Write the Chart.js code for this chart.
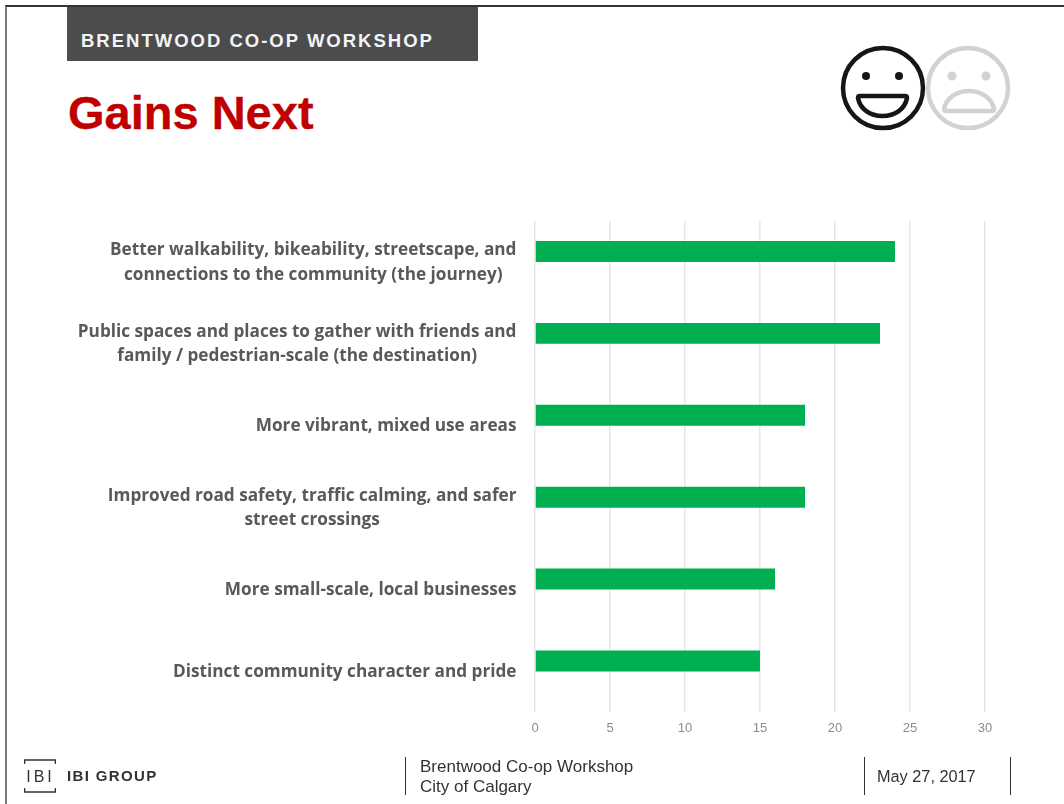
<!DOCTYPE html>
<html lang="en">
<head>
<meta charset="UTF-8" />
<title>Gains Next</title>
<script src="https://cdn.jsdelivr.net/npm/chart.js@4"></script>
<style>
  html, body { margin: 0; padding: 0; background: #fff; }
  #page { position: relative; width: 1064px; height: 804px; overflow: hidden; font-family: "Liberation Sans", Arial, sans-serif; }
  #frame { position: absolute; left: 5px; top: 5px; width: 1059px; height: 799px; border-top: 2px solid #333; border-left: 2px solid #777; box-sizing: border-box; }
  #banner { position: absolute; left: 67px; top: 7px; width: 411px; height: 54px; background: #4b4c4e; }
  #banner span { position: absolute; left: 14px; top: 23px; color: #f4f4f4; font-weight: bold; font-size: 18.5px; letter-spacing: 2px; white-space: nowrap; }
  #heading { position: absolute; left: 68px; top: 86px; color: #c00000; font-weight: bold; font-size: 47px; line-height: 54px; white-space: nowrap; -webkit-text-stroke: 0.3px #c00000; }
  #faces { position: absolute; left: 840px; top: 45px; }
  canvas { position: absolute; left: 0; top: 0; }
  .rule { position: absolute; top: 757px; height: 38px; width: 1px; background: #333; }
  .foot { position: absolute; color: #333; font-size: 17px; line-height: 20px; white-space: nowrap; }
  #brand { position: absolute; left: 67px; top: 767px; color: #333; font-weight: bold; font-size: 15px; letter-spacing: 1.35px; white-space: nowrap; }
</style>
</head>
<body>
<div id="page">
  <div id="frame"></div>
  <div id="banner"><span>BRENTWOOD CO-OP WORKSHOP</span></div>
  <div id="heading">Gains Next</div>
  <svg id="faces" width="172" height="88" viewBox="0 0 172 88">
    <g fill="none" stroke="#161616" stroke-width="4.5">
      <circle cx="43" cy="43" r="40" />
      <path d="M20 51 H65 Q67 51 67 53 C65 64 55 71 42.5 71 C30 71 20 64 18 53 Q18 51 20 51 Z" />
    </g>
    <circle cx="26" cy="31" r="4" fill="#161616" />
    <circle cx="59" cy="31" r="4" fill="#161616" />
    <g fill="none" stroke="#d2d2d2" stroke-width="4.5">
      <circle cx="128" cy="43" r="40" />
      <path d="M106 66 H152 Q154 66 154 64 C152 53 141 46 129 46 C117 46 106 53 104 64 Q104 66 106 66 Z" />
    </g>
    <circle cx="112" cy="31" r="4.5" fill="#d2d2d2" />
    <circle cx="146" cy="31" r="4.5" fill="#d2d2d2" />
  </svg>
  <canvas id="myChart" width="1064" height="804"></canvas>
  <svg style="position:absolute;left:24px;top:759px" width="32" height="34" viewBox="0 0 32 34">
    <path d="M0.5 5 V1 H31.5 V5 M0.5 29 V33 H31.5 V29" fill="none" stroke="#333" stroke-width="1.6" />
    <text x="16.5" y="23" text-anchor="middle" font-family="Liberation Sans" font-size="16" letter-spacing="3" fill="#333">IBI</text>
  </svg>
  <div id="brand">IBI GROUP</div>
  <div class="rule" style="left:405px"></div>
  <div class="foot" style="left:420px;top:757px">Brentwood Co-op Workshop<br>City of Calgary</div>
  <div class="rule" style="left:864px"></div>
  <div class="foot" style="left:877px;top:766px;font-size:16.3px">May 27, 2017</div>
  <div class="rule" style="left:1010px"></div>
</div>

<script>
  const categories = [
    ['Better walkability, bikeability, streetscape, and', 'connections to the community (the journey)'],
    ['Public spaces and places to gather with friends and', 'family / pedestrian-scale (the destination)'],
    ['More vibrant, mixed use areas'],
    ['Improved road safety, traffic calming, and safer', 'street crossings'],
    ['More small-scale, local businesses'],
    ['Distinct community character and pride']
  ];
  const gains = [24, 23, 18, 18, 16, 15];
  // empty second series, it is what pushes the green bars above the band centre
  const emptySeries = [null, null, null, null, null, null];

  // chart.js right aligns every line of a tick, these are centred in a right aligned block
  const blockLabels = {
    id: 'blockLabels',
    afterDraw(chart) {
      const ctx = chart.ctx;
      const y = chart.scales.y;
      ctx.save();
      ctx.font = 'bold 17.2px "Open Sans"';
      ctx.fillStyle = '#595959';
      ctx.textBaseline = 'middle';
      ctx.textAlign = 'center';
      categories.forEach((lines, i) => {
        const mid = y.getPixelForTick(i);
        const widest = Math.max(...lines.map(l => ctx.measureText(l).width));
        const cx = 516.5 - widest / 2;
        lines.forEach((line, n) => {
          ctx.fillText(line, cx, mid + 0.5 + (n - (lines.length - 1) / 2) * 24.5);
        });
      });
      ctx.restore();
    }
  };

  new Chart(document.getElementById('myChart').getContext('2d'), {
    type: 'bar',
    data: {
      labels: categories,
      datasets: [
        { data: gains, backgroundColor: '#00b050', categoryPercentage: 0.512, barPercentage: 1 },
        { data: emptySeries, backgroundColor: '#c00000', categoryPercentage: 0.512, barPercentage: 1 }
      ]
    },
    options: {
      indexAxis: 'y',
      responsive: false,
      animation: false,
      layout: { padding: { left: 527, right: 79, top: 221, bottom: 60 } },
      plugins: { legend: { display: false }, tooltip: { enabled: false } },
      scales: {
        x: {
          min: 0,
          max: 30,
          ticks: { stepSize: 5, color: '#8c8c8c', padding: 8, font: { family: 'Liberation Sans', size: 13 }, maxRotation: 0 },
          grid: { color: '#e6e6e6', lineWidth: 1.5, drawTicks: false },
          border: { display: false }
        },
        y: {
          ticks: { display: false },
          grid: { display: false },
          border: { display: false }
        }
      }
    },
    plugins: [blockLabels]
  });
</script>
</body>
</html>
